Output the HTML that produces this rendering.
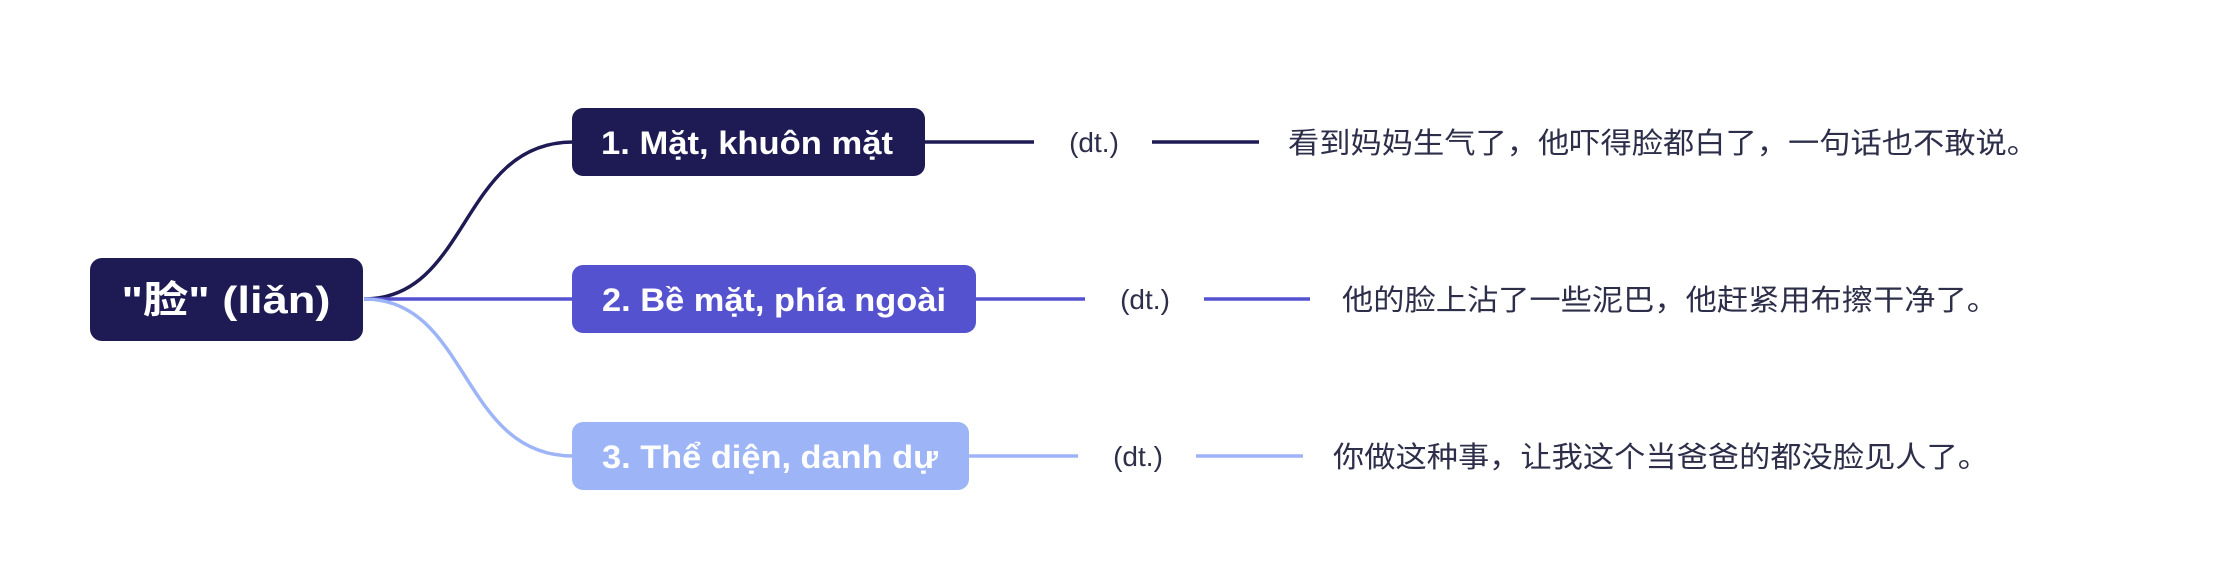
<!DOCTYPE html>
<html><head><meta charset="utf-8"><style>
html,body{margin:0;padding:0;background:#fff;}
svg{display:block}
.n{font-family:"Liberation Sans","Noto Sans CJK SC",sans-serif;font-weight:bold;fill:#fff}
.d{font-family:"Liberation Sans",sans-serif;font-size:28px;fill:#2d2f4a}
.c{font-family:"Liberation Sans","Noto Sans CJK SC",sans-serif;font-size:29px;fill:#2d2f4a}
</style></head><body>
<svg width="2225" height="587" viewBox="0 0 2225 587" xmlns="http://www.w3.org/2000/svg">
<g fill="none" stroke-width="3.5">
<path d="M364 299 C470 299 460 142 573 142" stroke="#1e1b54"/>
<path d="M364 299 L573 299" stroke="#5552d0"/>
<path d="M364 299 C470 299 460 456 573 456" stroke="#9db5f7"/>
<path d="M925 142 L1034 142 M1152 142 L1259 142" stroke="#1e1b54"/>
<path d="M976 299 L1085 299 M1204 299 L1310 299" stroke="#5552d0"/>
<path d="M969 456 L1078 456 M1196 456 L1303 456" stroke="#9db5f7"/>
</g>
<rect x="90" y="258" width="273" height="83" rx="12" fill="#1e1b54"/>
<text class="n" x="226" y="313" font-size="38" text-anchor="middle" textLength="209" lengthAdjust="spacingAndGlyphs">"脸" (liǎn)</text>
<rect x="572" y="108" width="353" height="68" rx="11" fill="#1e1b54"/>
<text class="n" x="747" y="154" font-size="32" text-anchor="middle" textLength="292" lengthAdjust="spacingAndGlyphs">1. Mặt, khuôn mặt</text>
<rect x="572" y="265" width="404" height="68" rx="11" fill="#5552d0"/>
<text class="n" x="774" y="311" font-size="32" text-anchor="middle" textLength="344" lengthAdjust="spacingAndGlyphs">2. Bề mặt, phía ngoài</text>
<rect x="572" y="422" width="397" height="68" rx="11" fill="#9db5f7"/>
<text class="n" x="770" y="468" font-size="32" text-anchor="middle" textLength="336" lengthAdjust="spacingAndGlyphs">3. Thể diện, danh dự</text>
<text class="d" x="1094" y="152" text-anchor="middle">(dt.)</text>
<text class="d" x="1145" y="309" text-anchor="middle">(dt.)</text>
<text class="d" x="1138" y="466" text-anchor="middle">(dt.)</text>
<text class="c" x="1288" y="153" textLength="750" lengthAdjust="spacingAndGlyphs">看到妈妈生气了，他吓得脸都白了，一句话也不敢说。</text>
<text class="c" x="1342" y="310" textLength="656" lengthAdjust="spacingAndGlyphs">他的脸上沾了一些泥巴，他赶紧用布擦干净了。</text>
<text class="c" x="1333" y="467" textLength="656" lengthAdjust="spacingAndGlyphs">你做这种事，让我这个当爸爸的都没脸见人了。</text>
</svg>
</body></html>
